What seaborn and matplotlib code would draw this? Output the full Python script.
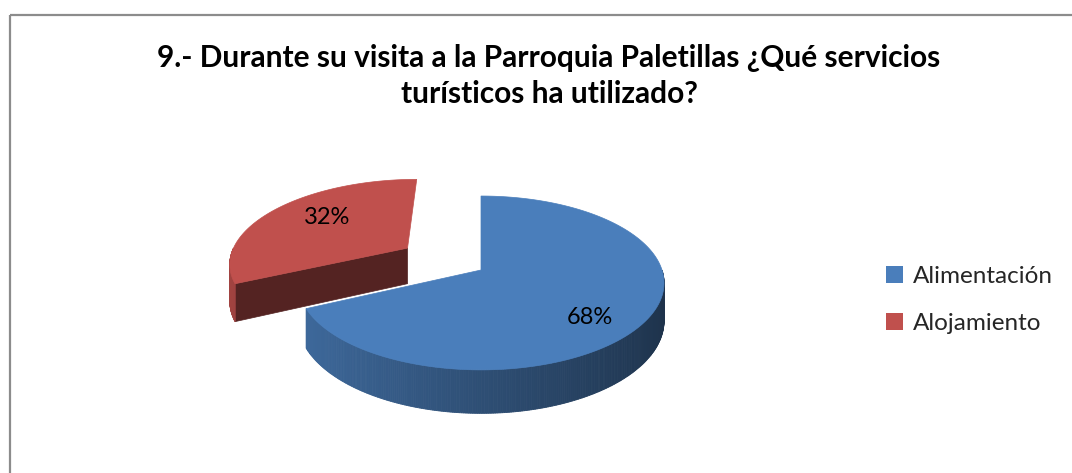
import numpy as np
import matplotlib
matplotlib.use("Agg")
import matplotlib.pyplot as plt
import seaborn as sns
from matplotlib.patches import Polygon, Rectangle, Patch
from matplotlib.colors import to_rgb

# ---- data ----
categories = ["Alimentación", "Alojamiento"]
values = [68, 32]
pct_labels = ["68%", "32%"]
title = "9.- Durante su visita a la Parroquia Paletillas ¿Qué servicios\nturísticos ha utilizado?"
top_colors = ["#4a7ebb", "#c0504d"]
explode = [0.0, 0.50]

sns.set_theme(style="white")
plt.rcParams['font.family'] = ['Lato', 'DejaVu Sans']

W, H = 1072, 473
fig = plt.figure(figsize=(W / 100, H / 100), dpi=100)
ax = fig.add_axes([0, 0, 1, 1])
ax.set_xlim(0, W)
ax.set_ylim(H, 0)
ax.axis('off')

# chart border (top and left visible)
ax.add_patch(Rectangle((10, 15), 1200, 600, fill=False, edgecolor="#8c8c8c", lw=1.6))

# perspective pie geometry
CX, CY, A, B, K, D = 481, 270, 181, 85, 0.149, 37


def proj(x, y, z):
    s = 1.0 / (1.0 + K * y)
    return CX + A * x * s, CY + (-B * y + D * z) * s


vals = np.array(values, dtype=float)
frac = vals / vals.sum()
cum = np.concatenate([[0], np.cumsum(frac)])
slices = []
for i in range(len(vals)):
    t1 = 90 - 360 * cum[i]
    t2 = 90 - 360 * cum[i + 1]
    mid = np.radians((t1 + t2) / 2)
    ox, oy = explode[i] * np.cos(mid), explode[i] * np.sin(mid)
    slices.append(dict(i=i, t1=t1, t2=t2, mid=mid, ox=ox, oy=oy))

# draw back slices first
for sl in sorted(slices, key=lambda s: -s['oy']):
    i, t1, t2, ox, oy = sl['i'], sl['t1'], sl['t2'], sl['ox'], sl['oy']
    base = np.array(to_rgb(top_colors[i]))
    angs = np.radians(np.linspace(t2, t1, 400))

    def P(a, z):
        return proj(ox + np.cos(a), oy + np.sin(a), z)

    # radial faces
    for t, sign in ((t1, +1), (t2, -1)):
        n = np.radians(t + sign * 90)
        if np.sin(n) < -0.05:
            a = np.radians(t)
            pts = [proj(ox, oy, 0), P(a, 0), P(a, 1), proj(ox, oy, 1)]
            ax.add_patch(Polygon(pts, closed=True, facecolor=base * 0.44,
                                 edgecolor=base * 0.44, lw=0.5))
    # outer wall with gradient
    for j in range(len(angs) - 1):
        a0, a1 = angs[j], angs[j + 1]
        am = (a0 + a1) / 2
        if np.sin(am) >= 0:
            continue
        f = 0.625 - 0.225 * np.cos(am)
        c = np.clip(base * f, 0, 1)
        pts = [P(a0, 0), P(a1, 0), P(a1, 1), P(a0, 1)]
        ax.add_patch(Polygon(pts, closed=True, facecolor=c, edgecolor=c, lw=0.6))
    # top face
    pts = [proj(ox, oy, 0)] + [P(a, 0) for a in angs]
    ax.add_patch(Polygon(pts, closed=True, facecolor=base, edgecolor=base, lw=0.5))

# percentage labels
label_r = [0.72, 0.6]
label_nudge = [(-8, 13), (1, -6)]
for sl in slices:
    r = label_r[sl['i']]
    x, y = proj(sl['ox'] + r * np.cos(sl['mid']), sl['oy'] + r * np.sin(sl['mid']), 0)
    dx, dy = label_nudge[sl['i']]
    ax.text(x + dx, y + dy, pct_labels[sl['i']], ha='center', va='center',
            fontsize=17, color='black')

# title
ax.text(549, 76, title, ha='center', va='center', fontsize=21.5, fontweight='bold',
        color='black', linespacing=1.35)

# legend
handles = [Patch(facecolor=c, edgecolor='none') for c in top_colors]
leg = ax.legend(handles, categories, loc='center left', bbox_to_anchor=(864, 300),
                bbox_transform=ax.transData, frameon=False, fontsize=17.5,
                handlelength=0.7, handleheight=0.7, handletextpad=0.4,
                labelspacing=1.05)

fig.savefig("out.png", dpi=100)
